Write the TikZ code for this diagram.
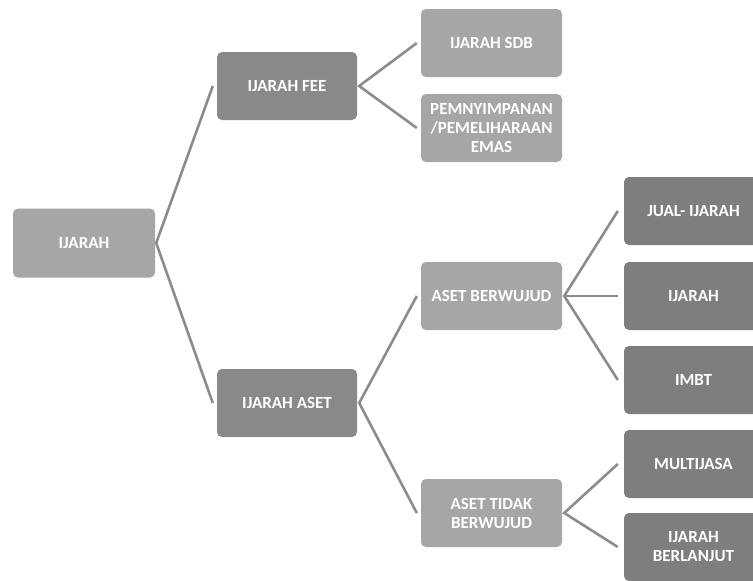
\documentclass[tikz,border=0pt]{standalone}
\usepackage{fontspec}
\setmainfont{Carlito}
\usepackage{xcolor}
\usepackage{tikz}
\usetikzlibrary{positioning,calc}

\definecolor{boxlight}{HTML}{A6A6A6}
\definecolor{boxmid}{HTML}{898989}
\definecolor{boxdark}{HTML}{7E7E7E}
\definecolor{linkgray}{HTML}{8C8C8C}

\begin{document}
\begin{tikzpicture}[
    x=1pt, y=-1pt,
    font=\bfseries\fontsize{17}{19}\selectfont,
    box/.style={fill=#1, text=white, align=center, rounded corners=5pt, inner sep=2pt},
    rootbox/.style={box=boxlight, minimum width=142pt, minimum height=69pt},
    midbox/.style={box=boxmid, minimum width=140pt, minimum height=68pt},
    subbox/.style={box=boxlight, minimum width=141pt, minimum height=68pt},
    leafbox/.style={box=boxdark, minimum width=139pt, minimum height=68pt},
    link/.style={draw=linkgray, line width=2.6pt, line join=miter}
]

% ===== FRAME =====
\clip (0,0) rectangle (753,581);

% ===== ROOT =====
\node[rootbox] (root) at (84,243) {IJARAH};

% ===== LEVEL 1 =====
\node[midbox] (fee)  at (287,86)  {IJARAH FEE};
\node[midbox] (aset) at (287,403) {IJARAH ASET};

% ===== LEVEL 2 =====
\node[subbox] (sdb)   at (491.5,43)  {IJARAH SDB};
\node[subbox] (emas)  at (491.5,128) {PEMNYIMPANAN\\/PEMELIHARAAN\\EMAS};
\node[subbox] (wujud) at (491.5,296) {ASET BERWUJUD};
\node[subbox] (tidak) at (491.5,513) {ASET TIDAK\\BERWUJUD};

% ===== LEVEL 3 =====
\node[leafbox] (jual)    at (693.5,211) {JUAL- IJARAH};
\node[leafbox] (ijr)     at (693.5,296) {IJARAH};
\node[leafbox] (imbt)    at (693.5,380) {IMBT};
\node[leafbox] (multi)   at (693.5,464) {MULTIJASA};
\node[leafbox] (lanjut)  at (693.5,547) {IJARAH\\BERLANJUT};

% ===== CONNECTORS =====
\draw[link] ([xshift=-4pt]fee.west) -- ([xshift=1pt]root.east) -- ([xshift=-4pt]aset.west);
\draw[link] ([xshift=-4pt]sdb.west) -- ([xshift=2pt]fee.east) -- ([xshift=-4pt]emas.west);
\draw[link] ([xshift=-4pt]wujud.west) -- ([xshift=2pt]aset.east) -- ([xshift=-4pt]tidak.west);
\draw[link] ([xshift=-6pt]jual.west) -- ([xshift=2pt]wujud.east) -- ([xshift=-6pt]imbt.west);
\draw[link] ([xshift=2pt]wujud.east) -- ([xshift=-6pt]ijr.west);
\draw[link] ([xshift=-6pt]multi.west) -- ([xshift=2pt]tidak.east) -- ([xshift=-6pt]lanjut.west);

\end{tikzpicture}
\end{document}
